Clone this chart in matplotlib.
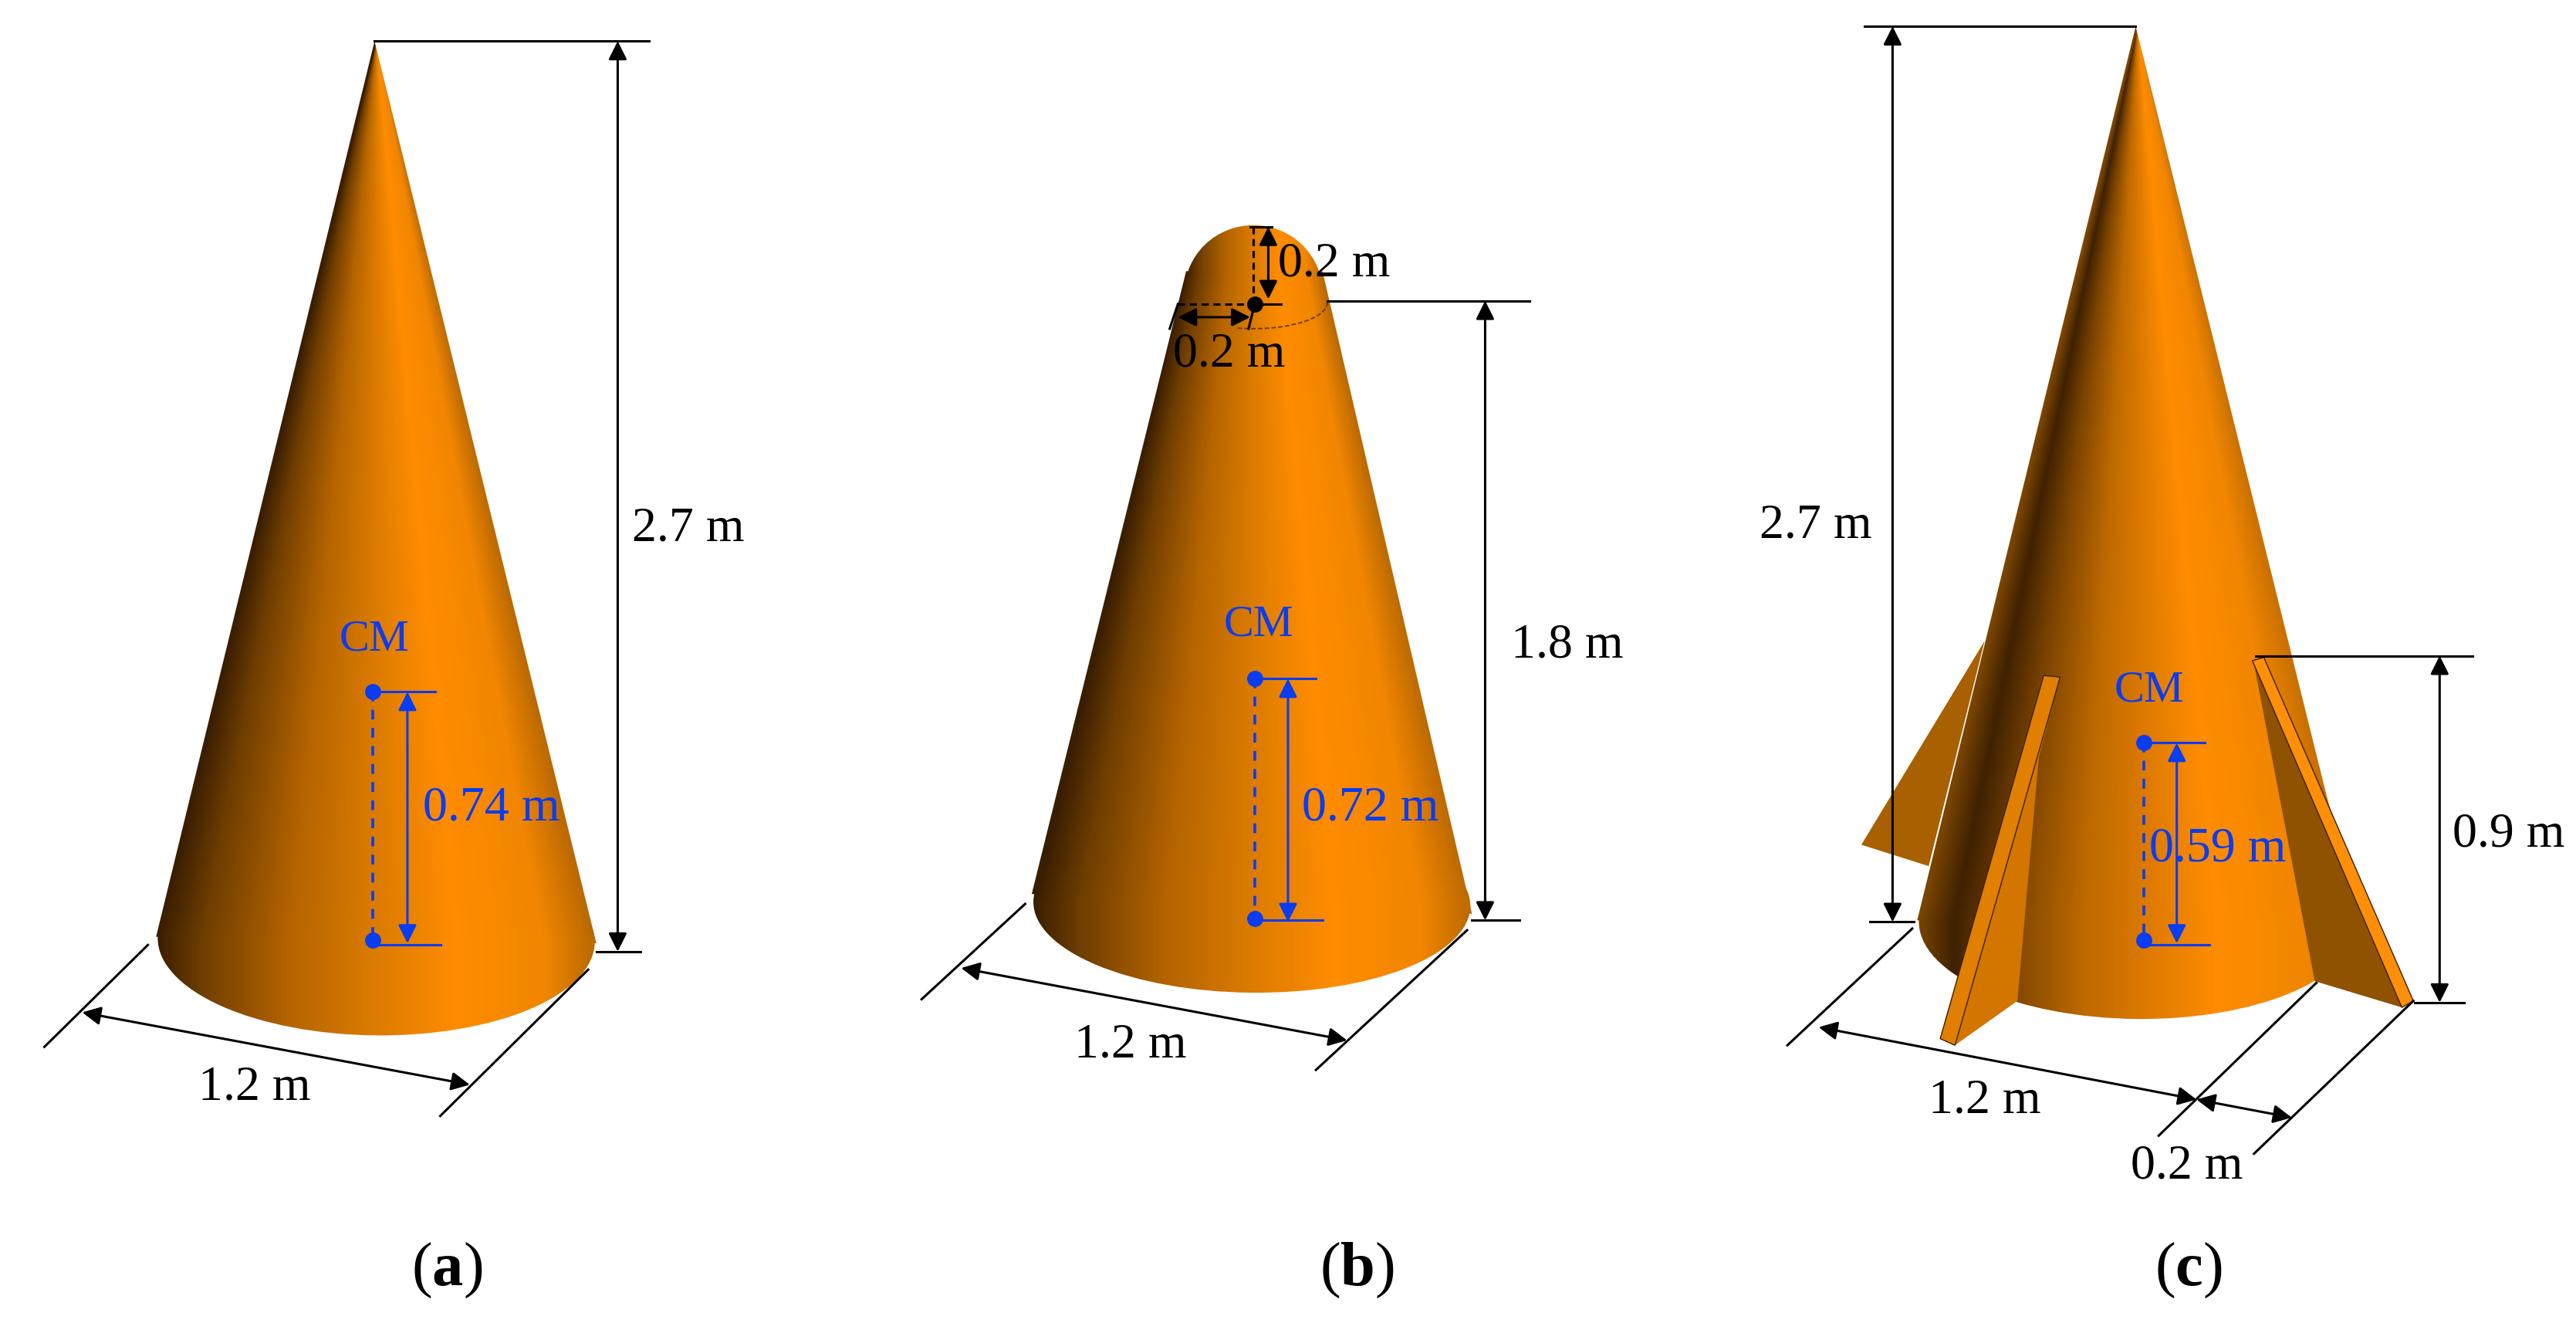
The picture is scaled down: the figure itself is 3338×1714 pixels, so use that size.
import numpy as np
import matplotlib
matplotlib.use("Agg")
import matplotlib.pyplot as plt
from matplotlib.colors import LinearSegmentedColormap
from matplotlib.patches import Polygon, Ellipse, Arc

plt.rcParams["font.family"] = ["Liberation Serif", "DejaVu Serif"]
plt.rcParams["mathtext.fontset"] = "custom"
plt.rcParams["mathtext.bf"] = "Liberation Serif:bold"
plt.rcParams["mathtext.rm"] = "Liberation Serif"

#Shading of the cone surface, left edge to right edge
shade_stops = [0.0, 0.1, 0.3, 0.5, 0.68, 0.88, 1.0]
shade_colors = ["#3a1e02", "#6e3d00", "#b56400", "#dc7c00", "#ff8c00", "#f28600", "#b86800"]
shade_stops_c = [0.0, 0.08, 0.2, 0.38, 0.68, 0.88, 1.0]
shade_colors_c = ["#7a4500", "#3f2101", "#7a4300", "#bf6a00", "#ff8c00", "#f28600", "#c87000"]

#Cone outlines (picture coordinates)
cone_a = [(228, 25), (95, 570), (363, 574)]
base_a = (229, 572, 266, 116)
cone_b = [(722, 165), (805, 165), (896, 556), (628, 544)]
base_b = (762, 550, 266, 108)
dome_b = (763, 178, 84, 82)
seam_b = (763, 184, 90, 32)
cone_c = [(1300, 16), (1167, 560), (1435, 560)]
base_c = (1301, 562, 266, 116)

#Fins of the third body
fin_back_left = [(1208, 390), (1133, 514), (1174, 527)]
fin_back_right = [(1398, 415), (1419, 495), (1408, 500)]
fin_front_left_face = [(1254, 412), (1241, 461), (1228, 609), (1190, 636)]
fin_front_left_strip = [(1244, 411), (1254, 412), (1190, 636), (1181, 632)]
fin_front_right_face = [(1372, 404), (1409, 597), (1462, 613)]
fin_front_right_strip = [(1371, 402), (1378, 400), (1469, 609), (1462, 613)]

#Black dimension lines: start and end
black_lines = [
    [(228, 25), (395, 25)], [(363, 579), (390, 579)],
    [(90, 575), (27, 637)], [(358, 590), (268, 679)],
    [(808, 183), (931, 183)], [(896, 560), (925, 560)],
    [(624, 550), (561, 608)], [(893, 566), (801, 651)],
    [(763, 185), (780, 185)], [(763, 188), (760, 200)], [(717, 185), (712, 200)], [(761, 138), (774, 138)],
    [(1135, 16), (1300, 16)], [(1138, 561), (1165, 561)],
    [(1373, 399), (1505, 399)], [(1470, 610), (1500, 610)],
    [(1164, 565), (1088, 636)], [(1410, 598), (1314, 691)], [(1469, 609), (1372, 702)],
]
black_arrows = [
    [(376, 25), (376, 579)], [(50, 616), (286, 660)],
    [(904, 183), (904, 560)], [(585, 589), (820, 633)],
    [(772, 138), (772, 182)], [(717, 193), (761, 193)],
    [(1152, 16), (1152, 561)], [(1485, 399), (1485, 610)],
    [(1107, 625), (1337, 669)], [(1337, 669), (1395, 680)],
]
black_dashes = [
    [(763, 138), (763, 184)], [(717, 185), (763, 185)],
]

#Blue centre of mass marks
cm_x = [227, 764, 1305]
cm_top = [421, 413, 452]
cm_bottom = [572, 559, 572]
cm_tick_drop = [3, 1, 3]
cm_arrow_x = [248, 784, 1325]
cm_tick_top = [265, 801, 1342]
cm_tick_bottom = [268, 805, 1345]
cm_names = ["CM", "CM", "CM"]
cm_name_pos = [(228, 389), (766, 380), (1308, 420)]
cm_values = ["0.74 m", "0.72 m", "0.59 m"]
cm_value_pos = [(299, 492), (834, 492), (1350, 517)]

black_labels = ["2.7 m", "1.2 m", "1.8 m", "1.2 m", "0.2 m", "0.2 m", "2.7 m", "1.2 m", "0.2 m", "0.9 m"]
black_label_pos = [(419, 322), (155, 662), (954, 393), (688, 636), (812, 161), (748, 216),
                   (1105, 320), (1208, 670), (1331, 710), (1527, 508)]
panel_names = ["a", "b", "c"]
panel_pos = [(272, 773), (826, 773), (1332, 773)]

BLUE = "#0a3cf0"
LW = 2.2

fig = plt.figure(figsize=(33.38, 17.14), dpi=100)
ax = fig.add_axes([0, 0, 1, 1])
cmap_ab = LinearSegmentedColormap.from_list("cone", list(zip(shade_stops, shade_colors)))
cmap_c = LinearSegmentedColormap.from_list("cone_c", list(zip(shade_stops_c, shade_colors_c)))


#Fills the patches with shading that follows the cone lines from the apex down to the base
def shade(patches, cmap, centre_x, half_width, apex_y, base_y, y_top, y_bottom, min_half=1.0):
    xs = np.arange(centre_x - half_width - 3, centre_x + half_width + 3, 0.5)
    ys = np.arange(y_top, y_bottom, 0.5)
    grid_x, grid_y = np.meshgrid(xs, ys)
    reach = half_width*(np.minimum(grid_y, base_y) - apex_y)/(base_y - apex_y)
    value = 0.5 + 0.5*(grid_x - centre_x)/np.maximum(reach, min_half)
    for patch in patches:
        ax.add_patch(patch)
        patch.set_facecolor("none")
        patch.set_edgecolor("none")
        image = ax.imshow(np.clip(value, 0, 1), cmap=cmap, vmin=0, vmax=1, aspect="auto", zorder=patch.get_zorder(),
                          extent=(xs[0], xs[-1], ys[-1], ys[0]), interpolation="bilinear")
        image.set_clip_path(patch)


def base_ellipse(base, zorder):
    return Ellipse(base[:2], base[2], base[3], angle=0.6, zorder=zorder)


def flat(points, color, zorder, edge="none"):
    ax.add_patch(Polygon(points, closed=True, facecolor=color, edgecolor=edge, lw=1.0, zorder=zorder))


def arrow(start, end, color):
    ax.annotate("", xy=end, xytext=start, zorder=8,
                arrowprops=dict(arrowstyle="<|-|>,head_length=0.8,head_width=0.4", color=color,
                                lw=LW, shrinkA=0, shrinkB=0, mutation_scale=18))


#Bodies
flat(fin_back_left, "#a86000", 1)
flat(fin_back_right, "#c87200", 1)
shade([Polygon(cone_a, zorder=2), base_ellipse(base_a, 2)], cmap_ab, 229, 134, 25, 572, 20, 635)
shade([Polygon(cone_b, zorder=2), base_ellipse(base_b, 2),
       Ellipse(dome_b[:2], dome_b[2], dome_b[3], zorder=2)], cmap_ab, 763, 134, -8, 550, 132, 610, min_half=42)
shade([Polygon(cone_c, zorder=2), base_ellipse(base_c, 2)], cmap_c, 1301, 134, 16, 562, 12, 625)
ax.add_patch(Arc(seam_b[:2], seam_b[2], seam_b[3], theta1=0, theta2=125, color="#6b3c00",
                 lw=1.4, ls=(0, (3, 1.5)), zorder=3))

#Fins in front of the third cone
flat(fin_front_left_face, "#d27600", 4)
flat(fin_front_right_face, "#8f5200", 4)
flat(fin_front_left_strip, "#e07f00", 5, edge="#3a2000")
flat(fin_front_right_strip, "#ff8f08", 5, edge="#3a2000")

#Dimensions
for start, end in black_lines:
    ax.plot([start[0], end[0]], [start[1], end[1]], color="black", lw=LW, zorder=7)
for start, end in black_dashes:
    ax.plot([start[0], end[0]], [start[1], end[1]], color="black", lw=LW, ls=(0, (3, 2)), zorder=7)
for start, end in black_arrows:
    arrow(start, end, "black")
ax.plot(764, 185, "o", color="black", ms=14, zorder=9)

#Centre of mass marks
for i in range(3):
    ax.plot([cm_x[i], cm_x[i]], [cm_top[i], cm_bottom[i]], color=BLUE, lw=2.6, ls=(0, (3.5, 3)), zorder=7)
    ax.plot([cm_x[i], cm_tick_top[i]], [cm_top[i], cm_top[i]], color=BLUE, lw=LW, zorder=7)
    tick_y = cm_bottom[i] + cm_tick_drop[i]
    ax.plot([cm_x[i], cm_tick_bottom[i]], [tick_y, tick_y], color=BLUE, lw=LW, zorder=7)
    ax.plot([cm_x[i], cm_x[i]], [cm_top[i], cm_bottom[i]], "o", color=BLUE, ms=14, zorder=9)
    arrow((cm_arrow_x[i], cm_top[i]), (cm_arrow_x[i], cm_bottom[i] + 2), BLUE)
    ax.text(*cm_name_pos[i], cm_names[i], color=BLUE, fontsize=42, ha="center", va="center", zorder=10)
    ax.text(*cm_value_pos[i], cm_values[i], color=BLUE, fontsize=46, ha="center", va="center", zorder=10)

for label, pos in zip(black_labels, black_label_pos):
    ax.text(*pos, label, color="black", fontsize=46, ha="center", va="center", zorder=10)
for name, pos in zip(panel_names, panel_pos):
    ax.text(*pos, r"($\mathbf{" + name + r"}$)", color="black", fontsize=58, ha="center", va="center", zorder=10)

ax.set_xlim(0, 1568)
ax.set_ylim(805, 0)
ax.axis("off")
fig.savefig("out.png", dpi=100, facecolor="white")
